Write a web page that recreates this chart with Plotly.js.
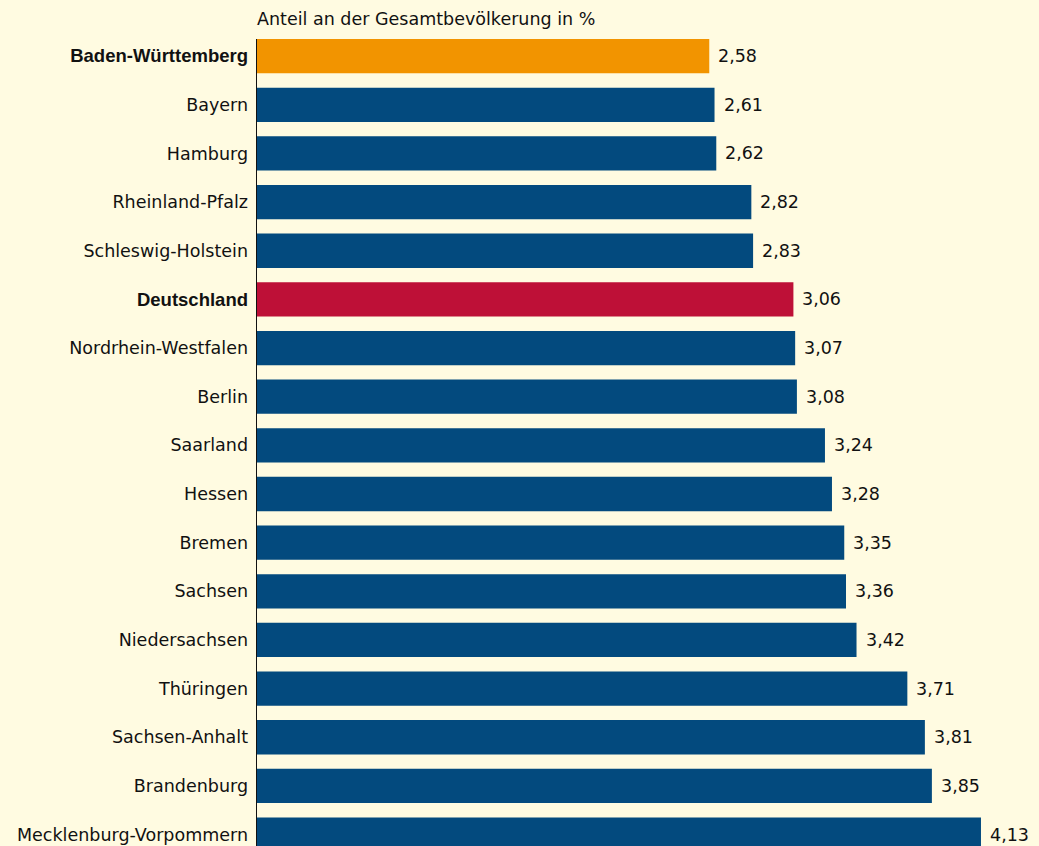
<!DOCTYPE html>
<html>
<head>
<meta charset="utf-8">
<script src="https://cdn.plot.ly/plotly-3.0.1.min.js"></script>
<style>
  html, body { margin: 0; padding: 0; background: #FFFBE1; }
  #chart { width: 1039px; height: 846px; }
</style>
</head>
<body>
<div id="chart"></div>
<script>
const categories = [
  "Baden-Württemberg", "Bayern", "Hamburg", "Rheinland-Pfalz", "Schleswig-Holstein",
  "Deutschland", "Nordrhein-Westfalen", "Berlin", "Saarland", "Hessen",
  "Bremen", "Sachsen", "Niedersachsen", "Thüringen", "Sachsen-Anhalt",
  "Brandenburg", "Mecklenburg-Vorpommern"
];
const values = [2.58, 2.61, 2.62, 2.82, 2.83, 3.06, 3.07, 3.08, 3.24, 3.28,
                3.35, 3.36, 3.42, 3.71, 3.81, 3.85, 4.13];
const highlighted = ["Baden-Württemberg", "Deutschland"];
const axisTitle = "Anteil an der Gesamtbevölkerung in %";

const colorFor = c => c === "Baden-Württemberg" ? "#F29400"
                    : c === "Deutschland" ? "#BE1037" : "#034A7E";
const FONT = "DejaVu Sans";
const FS = 17.5;

const ticktext = categories.map(c => highlighted.includes(c)
  ? '<span style="font-family:Liberation Sans;font-size:18.5px"><b>' + c + '</b></span>'
  : c);
const fmt = v => v.toFixed(2).replace(".", ",");

const trace = {
  type: "bar",
  orientation: "h",
  y: categories,
  x: values,
  marker: { color: categories.map(colorFor), line: { width: 0 } },
  hoverinfo: "none"
};

const annotations = categories.map((c, i) => ({
  x: values[i], y: c, xref: "x", yref: "y",
  text: fmt(values[i]), showarrow: false,
  xanchor: "left", yanchor: "middle", xshift: 7,
  font: { family: FONT, size: FS, color: "#111" }
}));
annotations.push({
  x: 0, y: 1, xref: "paper", yref: "paper",
  text: axisTitle, showarrow: false,
  xanchor: "left", yanchor: "bottom", yshift: 8, xshift: -2,
  font: { family: FONT, size: FS, color: "#111" }
});

const layout = {
  width: 1039, height: 846,
  paper_bgcolor: "#FFFBE1", plot_bgcolor: "#FFFBE1",
  margin: { l: 257, r: 0, t: 39, b: 0, pad: 0 },
  bargap: 0.295,
  showlegend: false,
  font: { family: FONT, size: FS, color: "#111" },
  xaxis: {
    range: [0, 4.461], visible: false, fixedrange: true
  },
  yaxis: {
    type: "category",
    range: [16.235, -0.3525],
    tickvals: categories, ticktext: ticktext,
    showline: true, linecolor: "#111", linewidth: 1.5,
    showgrid: false, zeroline: false,
    ticks: "outside", ticklen: 4, tickcolor: "rgba(0,0,0,0)",
    tickfont: { family: FONT, size: FS, color: "#111" }
  },
  annotations: annotations
};

Plotly.newPlot("chart", [trace], layout, { displayModeBar: false, staticPlot: true });
</script>
</body>
</html>
